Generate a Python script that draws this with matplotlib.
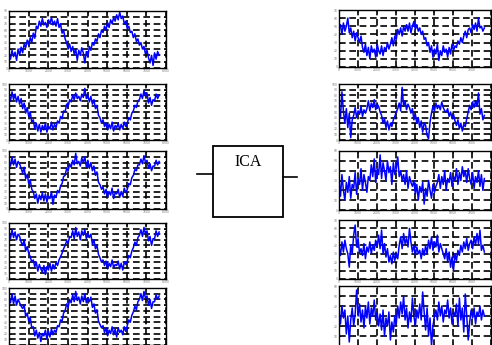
import matplotlib.pyplot as plt
import numpy as np
from matplotlib.patches import Rectangle

# samples span 0..7650 on a 0..8000 axis
x_end = 7650
x_ticks = [0, 1000, 2000, 3000, 4000, 5000, 6000, 7000, 8000]
x_labels = ['0', '1000', '2000', '3000', '4000', '5000', '6000', '7000', '8000']

# left column: observed mixtures (values in grid units, 10 per grid line)
left_1 = [22, 14, 28, 18, 25, 12, 30, 20, 33, 24, 38,
          32, 44, 36, 48, 40,
          55, 47, 66,
          62, 74, 66, 78, 68, 72, 64, 76, 70, 80, 68, 74, 66, 78,
          64, 70, 55, 60, 46,
          40, 30, 38, 26, 34, 22, 30,
          12, 28, 20, 32,
          24, 8, 26, 18,
          34, 28, 40, 36, 46,
          42, 54, 48, 60, 56,
          66, 60, 72, 64, 76, 70, 80,
          74, 84, 76, 88, 78, 82,
          70, 74, 62, 66, 56,
          58, 48, 54, 42, 46, 36,
          40, 30, 34, 22, 28, 16,
          8, 20, 4, 24, 14, 26, 20]
left_2 = [80, 70, 86, 72, 82, 68, 78, 64, 74,
          56, 66, 48, 58, 42, 50, 32,
          36, 20, 30, 16, 28, 14, 26,
          18, 30, 14, 24, 20, 32, 18, 28, 22, 34,
          30, 42, 38, 52, 50, 64, 60, 72,
          68, 80, 72, 84, 74, 78, 70, 82, 76, 92, 74, 80,
          68, 78, 64, 72, 56, 62, 44, 40, 30, 36, 24,
          30, 18, 28, 20, 32, 16, 26, 22, 30, 18, 28, 20, 32, 24,
          30, 40, 36, 48, 52, 62, 58, 70,
          72, 82, 74, 88, 78, 84, 66, 76, 62, 72, 70, 82, 74, 80]
left_3 = [84, 74, 90, 76, 86, 72, 82, 78, 70,
          62, 72, 52, 60, 44, 50, 34,
          30, 18, 26, 10, 24, 16, 28,
          14, 26, 12, 22, 18, 30, 8, 24, 20, 32,
          28, 40, 44, 56, 58, 70, 66, 78,
          72, 84, 76, 96, 78, 82, 74, 88, 80, 90, 72, 84,
          70, 80, 66, 74, 58, 64, 46, 42, 34, 38, 26,
          34, 20, 30, 24, 36, 18, 28, 26, 34, 20, 30, 22, 36, 28,
          34, 44, 42, 54, 58, 68, 66, 76,
          76, 86, 78, 92, 80, 84, 70, 78, 66, 74, 74, 84, 76, 82]
left_4 = [80, 72, 88, 74, 84, 70, 80, 76, 66,
          60, 70, 50, 58, 46, 40, 30,
          34, 22, 30, 14, 26, 18, 12,
          24, 8, 22, 16, 28, 14, 26, 18, 30, 24,
          34, 40, 46, 54, 60, 68, 64, 76,
          74, 86, 72, 92, 76, 84, 70, 86, 78, 88, 72, 82,
          74, 80, 62, 70, 54, 60, 44, 38, 30, 34, 24,
          32, 18, 28, 22, 34, 20, 26, 24, 32, 18, 28, 16, 30, 26,
          32, 42, 38, 50, 56, 66, 60, 74,
          78, 88, 76, 92, 80, 86, 68, 76, 60, 72, 72, 86, 76, 84]
left_5 = [82, 74, 90, 72, 86, 70, 80, 74, 68,
          64, 70, 50, 56, 42, 48, 30,
          32, 16, 26, 12, 22, 6, 20,
          16, 26, 10, 24, 14, 28, 18, 26, 22, 34,
          32, 44, 42, 56, 60, 72, 66, 80,
          74, 88, 76, 94, 78, 84, 72, 86, 76, 90, 74, 82,
          76, 84, 66, 72, 56, 62, 42, 36, 30, 34, 22,
          30, 16, 26, 20, 32, 18, 28, 14, 30, 22, 26, 18, 32, 24,
          34, 44, 40, 52, 58, 68, 62, 76,
          80, 90, 78, 94, 82, 86, 70, 80, 64, 76, 76, 88, 80, 86]

# right column: estimated sources
right_1 = [46, 52, 40, 54, 44, 50, 60, 42,
           48, 36, 44, 32, 42, 36, 30, 38, 24,
           18, 28, 14, 24, 10, 26, 18, 22, 12, 28, 20, 16, 26, 14, 24, 20, 30, 22,
           28, 36, 26, 38, 34, 46, 40, 48, 38, 50, 44,
           52, 44, 54, 42, 50, 56, 46, 52, 44,
           48, 40, 44, 34, 36, 26, 30,
           18, 26, 12, 22, 16, 28, 8, 20, 14, 26, 18, 22, 12, 24, 16, 28, 20, 26,
           24, 32, 28, 36, 30, 38, 44, 36, 46,
           48, 42, 52, 46, 54, 44, 60, 48, 50, 44, 48]
right_2 = [58, 40, 86, 52, 30, 56, 22, 48, 4, 36,
           44, 58, 40, 52, 46, 60, 42, 54, 48,
           56, 70, 52, 66, 58, 72, 54, 64, 60, 50,
           44, 30, 38, 22, 34, 18, 30, 24, 36, 42, 50,
           56, 66, 52, 94, 60, 70, 54, 64, 58,
           48, 56, 36, 46, 30, 40,
           22, 34, 14, 30, 26, 8, 2, 32,
           48, 60, 52, 66, 56, 62, 54, 68, 58, 52,
           50, 56, 42, 50, 38, 46, 34,
           26, 36, 20, 30, 16, 28, 24, 38,
           50, 62, 54, 68, 58, 70, 60, 84,
           46, 56, 36, 44]
right_3 = [30, 14, 36, 20, 10, 28, 18, 34, 12, 26,
           22, 38, 16, 32, 26, 42, 20, 36, 28, 18, 34,
           30, 46, 34, 52, 28, 42, 36, 56, 32, 48, 40, 30, 50, 38, 44, 26, 48, 36, 42, 54, 34, 40, 30,
           36, 26, 40, 22, 34, 28, 24,
           30, 16, 26, 10, 24, 18, 28, 6, 22, 14, 30, 20, 12, 26, 18, 24,
           28, 36, 22, 34, 26, 40, 20, 32, 28, 38, 24, 34, 30, 42, 26,
           38, 30, 44, 34, 40, 28, 42,
           32, 26, 38, 22, 34, 28, 40, 24, 36, 20, 32]
right_4 = [38, 28, 44, 32, 46, 36, 30, 14,
           40, 30, 52, 64, 38, 48, 30,
           36, 28, 42, 24, 38, 32, 44, 30, 40,
           34, 46, 38, 52, 36, 58, 30, 42, 26, 36, 20,
           28, 18, 32, 22, 30, 24,
           40, 50, 36, 54, 42, 48, 38, 60,
           44, 32, 40, 28, 38, 30, 34, 24, 36, 28,
           40, 30, 46, 36, 50, 34, 44, 38, 52, 32, 42, 36,
           30, 24, 36, 20, 32, 14, 26, 10, 30, 22, 34, 28,
           40, 32, 44, 36, 48, 34, 42,
           46, 36, 50, 40, 54, 42, 58, 34, 40, 32]
right_5 = [34, 22, 40, 28, 36, 12, 30, 4, 26, 38, 20, 32, 56,
           30, 42, 24, 36, 18, 40, 28, 44, 22, 38, 30, 46, 26, 34, 20,
           32, 16, 36, 10, 28, 20, 34, 6, 24, 14, 30, 22, 40,
           28, 44, 32, 50, 26, 38, 18, 34, 24, 48, 30, 20, 36, 28, 42,
           26, 54, 34, 16, 38, 10, 28, 0, 20, 30,
           36, 26, 44, 30, 40, 24, 36, 32, 46, 28, 38, 22, 34,
           30, 42, 20, 48, 26, 38, 14, 52, 30, 6, 24, 36,
           28, 38, 22, 34, 30, 40, 26, 36, 30]

left_signals = [left_1, left_2, left_3, left_4, left_5]
right_signals = [right_1, right_2, right_3, right_4, right_5]
left_tops = [90, 100, 100, 100, 100]
right_tops = [70, 100, 60, 70, 60]

W, H = 492, 345
fig = plt.figure(figsize=(W / 100, H / 100), dpi=100)

# panel boxes in pixels: (top, bottom)
left_rows = [(11, 68), (84, 140), (151, 209), (223, 279), (288, 345)]
right_rows = [(10, 67), (84, 140), (151, 210), (220, 279), (286, 346)]


def add_px(x0, x1, y0, y1):
    return fig.add_axes([x0 / W, 1 - y1 / H, (x1 - x0) / W, (y1 - y0) / H])


def draw(ax, vals, top, last=False, right=False):
    xs = np.linspace(0, x_end, len(vals))
    ax.plot(xs, vals, color='#0000ff', lw=1.1)
    ax.set_xlim(0, 8000)
    ax.set_ylim(0, top)
    # the right column ends at the picture edge, so its 8000 label is off
    ax.set_xticks(x_ticks, x_labels[:-1] + [''] if right else x_labels)
    yt = np.arange(0, top + 1, 10)
    ylab = [str(v) for v in yt]
    if last:
        ylab[0] = ''
    ax.set_yticks(yt, ylab)
    ax.grid(True, color='black', lw=1.2, linestyle=(0, (4.0, 2.2)))
    ax.tick_params(labelsize=2.2, length=1.5, width=0.5, pad=1,
                   labelcolor='#777777', direction='in', top=True, right=True)
    if last:
        # the bottom row runs off the picture, so its x labels are not seen
        ax.tick_params(labelbottom=False)
    for s in ax.spines.values():
        s.set_linewidth(1.0)


for i, (vals, top, (t, b)) in enumerate(zip(left_signals, left_tops, left_rows)):
    draw(add_px(9, 166, t, b), vals, top, last=(i == 4))

for i, (vals, top, (t, b)) in enumerate(zip(right_signals, right_tops, right_rows)):
    draw(add_px(339, 491, t, b), vals, top, last=(i == 4), right=True)

# ICA block in the middle
ov = fig.add_axes([0, 0, 1, 1])
ov.set_xlim(0, W)
ov.set_ylim(H, 0)
ov.axis('off')
ov.add_patch(Rectangle((213, 146), 70, 71, fill=False, ec='black', lw=1.3))
ov.plot([197, 213], [174, 174], color='black', lw=1.2)
ov.plot([283, 297], [177, 177], color='black', lw=1.2)
ov.text(248, 162, 'ICA', family='Liberation Serif', fontsize=11.5,
        ha='center', va='center')

fig.savefig('out.png', dpi=100)
